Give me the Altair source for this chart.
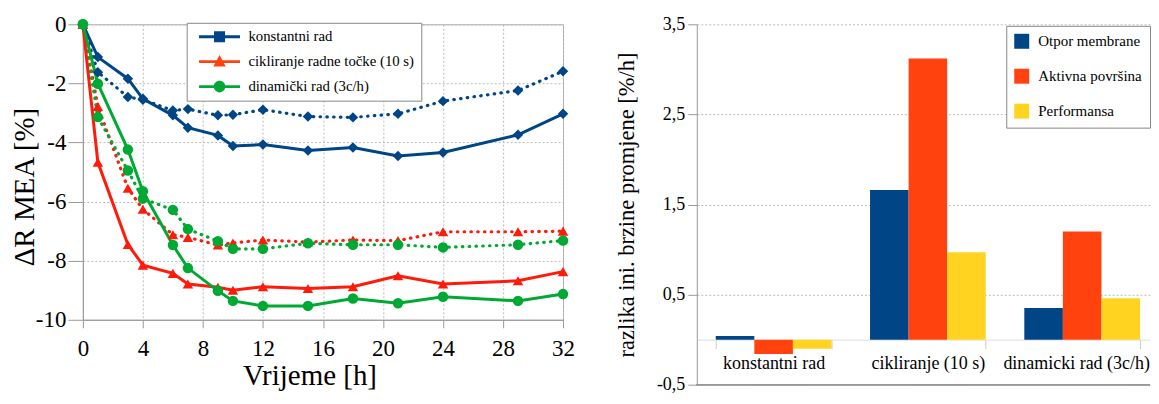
import altair as alt
import pandas as pd

# ---------------- left chart data ----------------
hours = [0, 1, 3, 4, 6, 7, 9, 10, 12, 15, 18, 21, 24, 29, 32]
konst_solid = [0, -1.11, -1.84, -2.52, -3.08, -3.50, -3.76, -4.12, -4.07, -4.27, -4.17, -4.46, -4.34, -3.74, -3.03]
konst_dotted = [0, -1.62, -2.46, -2.55, -2.92, -2.87, -3.08, -3.06, -2.89, -3.12, -3.15, -3.03, -2.60, -2.24, -1.59]
cikl_solid = [0, -4.67, -7.45, -8.15, -8.43, -8.79, -8.90, -9.00, -8.88, -8.94, -8.88, -8.51, -8.79, -8.68, -8.37]
cikl_dotted = [0, -2.78, -5.55, -6.26, -7.12, -7.21, -7.47, -7.40, -7.30, -7.37, -7.30, -7.32, -7.02, -7.02, -7.00]
dinam_solid = [0, -2.01, -4.24, -5.65, -7.47, -8.25, -9.02, -9.36, -9.53, -9.53, -9.28, -9.44, -9.22, -9.36, -9.13]
dinam_dotted = [0, -3.14, -4.95, -5.90, -6.28, -6.93, -7.34, -7.60, -7.60, -7.41, -7.46, -7.46, -7.55, -7.46, -7.32]

series_names = ["konstantni rad", "cikliranje radne točke (10 s)", "dinamički rad (3c/h)"]
line_colors = ["#004586", "#ff1a0a", "#00a933"]
legend_colors = ["#004586", "#ff420e", "#00a933"]
x_ticks = [0, 4, 8, 12, 16, 20, 24, 28, 32]
y_ticks = [-10, -8, -6, -4, -2, 0]

# ---------------- right chart data ----------------
categories = ["konstantni rad", "cikliranje (10 s)", "dinamicki rad (3c/h)"]
bar_series = ["Otpor membrane", "Aktivna površina", "Performansa"]
otpor = [0.04, 1.66, 0.35]
aktivna = [-0.16, 3.12, 1.20]
performansa = [-0.10, 0.97, 0.46]
bar_colors = ["#004586", "#ff420e", "#ffd320"]
bar_y_ticks = [-0.5, 0.5, 1.5, 2.5, 3.5]

FONT = "Liberation Serif"

rows = []
for name, s_vals, d_vals in zip(series_names,
                                [konst_solid, cikl_solid, dinam_solid],
                                [konst_dotted, cikl_dotted, dinam_dotted]):
    for t, a, b in zip(hours, s_vals, d_vals):
        rows.append({"t": t, "v": a, "series": name, "style": "solid"})
        rows.append({"t": t, "v": b, "series": name, "style": "dotted"})
df = pd.DataFrame(rows)
leg_df = pd.DataFrame({"leg": series_names})

x_enc = alt.X("t:Q", scale=alt.Scale(domain=[0, 32], nice=False),
              axis=alt.Axis(values=x_ticks, title="Vrijeme [h]", labelFontSize=23, labelFont=FONT,
                            labelColor="black", labelPadding=10, tickSize=8, tickColor="#999",
                            domainColor="#999", gridColor="#bbb", gridDash=[2, 2],
                            titleFontSize=29, titleFont=FONT, titleFontWeight="normal",
                            titleColor="black", titlePadding=1, titleX=227, labelFlush=False))
y_enc = alt.Y("v:Q", scale=alt.Scale(domain=[-10, 0], nice=False),
              axis=alt.Axis(values=y_ticks, title="ΔR MEA [%]", labelExpr="toString(datum.value)",
                            labelFontSize=23, labelFont=FONT, labelColor="black", labelPadding=2,
                            tickSize=15, tickColor="#999", domainColor="#999", gridColor="#bbb",
                            gridDash=[2, 2], titleFontSize=29, titleFont=FONT,
                            titleFontWeight="normal", titleColor="black", titlePadding=-4.7,
                            titleY=162.5, labelFlush=False))
color_enc = alt.Color("series:N", scale=alt.Scale(domain=series_names, range=line_colors), legend=None)

base = alt.Chart(df).encode(x=x_enc, y=y_enc, color=color_enc)
solid = base.transform_filter("datum.style == 'solid'").mark_line(strokeWidth=3, clip=False).encode(
    detail="series:N")
dotted = base.transform_filter("datum.style == 'dotted'").mark_line(
    strokeWidth=3.2, strokeDash=[0.5, 6.3], strokeCap="round", clip=False).encode(detail="series:N")
pts = base.mark_point(filled=True, size=110, opacity=1, clip=False).encode(
    shape=alt.Shape("series:N", scale=alt.Scale(domain=series_names,
                                                range=["diamond", "triangle-up", "circle"]),
                    legend=None))

line_rect = "M-0.25,-0.24 L6.58,-0.24 L6.58,0.24 L-0.25,0.24 Z "
legend_paths = [
    line_rect + "M2.25,-0.92 L4.09,-0.92 L4.09,0.92 L2.25,0.92 Z",
    line_rect + "M3.17,-1.1 L4.2,0.8 L2.14,0.8 Z",
    line_rect + "M2.2,0 A0.97,0.97 0 1,1 4.14,0 A0.97,0.97 0 1,1 2.2,0 Z",
]
left_legend = alt.Legend(title=None, orient="none", legendX=104, legendY=-1.5, padding=6.5,
                         rowPadding=9, labelOffset=40.5, labelFontSize=14.8, labelFont=FONT,
                         labelColor="black", labelLimit=400, symbolSize=144, symbolStrokeWidth=0,
                         symbolOpacity=1, strokeColor="#888", fillColor="white")
legend_layer = alt.Chart(leg_df).transform_filter("false").mark_point(
    filled=True, size=144, opacity=1).encode(
    color=alt.Color("leg:N", scale=alt.Scale(domain=series_names, range=legend_colors),
                    legend=left_legend),
    shape=alt.Shape("leg:N", scale=alt.Scale(domain=series_names, range=legend_paths),
                    legend=left_legend),
)

left = alt.layer(dotted, solid, pts, legend_layer).resolve_scale(
    color="independent", shape="independent").properties(
    width=481, height=296, view=alt.ViewBackground(stroke="#aaa"))

# ---------------- right chart ----------------
brows = []
for ser, vals in zip(bar_series, [otpor, aktivna, performansa]):
    for cat, v in zip(categories, vals):
        brows.append({"cat": cat, "ser": ser, "val": v})
bdf = pd.DataFrame(brows)

RIGHT_H = 361
last_cat_test = "datum.value === '" + categories[-1] + "'"
bars = alt.Chart(bdf).mark_bar().encode(
    x=alt.X("cat:N", sort=categories,
            scale=alt.Scale(paddingInner=0.25, paddingOuter=0.0939, align=0.655),
            axis=alt.Axis(title=None, labelAngle=0, labelFontSize=18, labelFont=FONT,
                          labelColor="black", labelPadding=6, tickSize=9, tickColor="#ccc",
                          domainColor="#ddd", tickBand="extent", tickExtra=False,
                          offset=-RIGHT_H / 8, grid=False, labelLimit=300,
                          labelOffset={"condition": {"test": last_cat_test, "value": -6},
                                       "value": 0})),
    xOffset=alt.XOffset("ser:N", sort=bar_series, scale=alt.Scale(paddingInner=0, paddingOuter=0)),
    y=alt.Y("val:Q", scale=alt.Scale(domain=[-0.5, 3.5], nice=False),
            axis=alt.Axis(values=bar_y_ticks, labelExpr="replace(toString(datum.value), '.', ',')",
                          title="razlika ini. brzine promjene [%/h]", labelFontSize=18,
                          labelFont=FONT, labelColor="black", labelPadding=3, tickSize=9,
                          tickColor="#999", domainColor="#999", gridColor="#bbb", gridDash=[2, 2],
                          titleFontSize=22.5, titleFont=FONT, titleFontWeight="normal",
                          titleColor="black", titlePadding=18)),
    color=alt.Color("ser:N", sort=bar_series, scale=alt.Scale(domain=bar_series, range=bar_colors),
                    legend=alt.Legend(title=None, orient="none", legendX=310, legendY=1.5, padding=8,
                                      rowPadding=19, labelOffset=9, symbolType="square",
                                      symbolSize=225, symbolStrokeWidth=0, labelFontSize=15,
                                      labelFont=FONT, labelColor="black", strokeColor="#888",
                                      fillColor="white")),
)
bottom_rule = alt.Chart(bdf).mark_rule(color="#999", strokeWidth=1).encode(y=alt.datum(-0.5))

right = alt.layer(bars, bottom_rule).properties(
    width=454, height=RIGHT_H, view=alt.ViewBackground(stroke="transparent"))

chart = alt.hconcat(left, right, spacing=134, bounds="flush").resolve_scale(
    color="independent").properties(
    padding={"left": 2, "top": 4, "right": 0, "bottom": 0}
).configure(font=FONT)

chart.save("out.html", embed_options={"renderer": "svg", "actions": False})
